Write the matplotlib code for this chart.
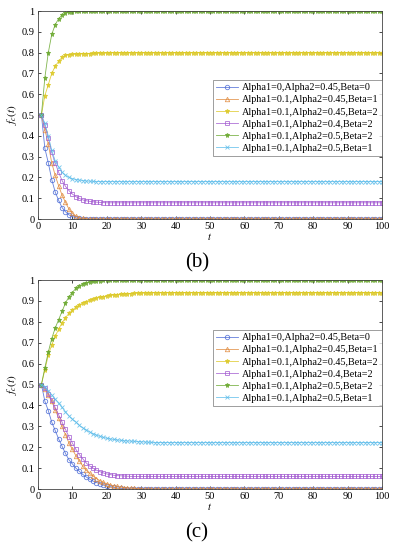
import matplotlib
matplotlib.use("Agg")
import matplotlib.pyplot as plt
import numpy as np

plt.rcParams['font.family'] = ['Liberation Serif', 'DejaVu Serif']
plt.rcParams['mathtext.fontset'] = 'stix'

# t = 1..100: early part listed, then the level it settles at
t = list(range(1, 101))

labels = ["Alpha1=0,Alpha2=0.45,Beta=0",
          "Alpha1=0.1,Alpha2=0.45,Beta=1",
          "Alpha1=0.1,Alpha2=0.45,Beta=2",
          "Alpha1=0.1,Alpha2=0.4,Beta=2",
          "Alpha1=0.1,Alpha2=0.5,Beta=2",
          "Alpha1=0.1,Alpha2=0.5,Beta=1"]

# panel (b)
b_s1 = [0.5, 0.34, 0.27, 0.19, 0.13, 0.09, 0.055, 0.035, 0.02, 0.012, 0.006, 0.003, 0.001]
b_s1_end = 0.0
b_s2 = [0.5, 0.43, 0.36, 0.27, 0.21, 0.16, 0.115, 0.08, 0.048, 0.027, 0.014, 0.007, 0.003, 0.001]
b_s2_end = 0.0
b_s3 = [0.5, 0.594, 0.646, 0.70, 0.735, 0.758, 0.778, 0.787, 0.79, 0.792, 0.793, 0.794, 0.795,
        0.796, 0.796, 0.797, 0.797, 0.798, 0.798, 0.799]
b_s3_end = 0.8
b_s4 = [0.5, 0.45, 0.39, 0.32, 0.27, 0.225, 0.185, 0.157, 0.137, 0.12, 0.108, 0.099, 0.092,
        0.088, 0.085, 0.083, 0.081, 0.08, 0.079]
b_s4_end = 0.078
b_s5 = [0.5, 0.68, 0.80, 0.888, 0.935, 0.963, 0.982, 0.99, 0.995, 0.997, 0.999]
b_s5_end = 1.0
b_s6 = [0.5, 0.46, 0.40, 0.33, 0.28, 0.25, 0.225, 0.21, 0.2, 0.194, 0.19, 0.187, 0.185,
        0.183, 0.182, 0.181]
b_s6_end = 0.18

# panel (c)
c_s1 = [0.5, 0.42, 0.375, 0.32, 0.28, 0.24, 0.205, 0.17, 0.14, 0.12, 0.1, 0.085, 0.07, 0.058,
        0.047, 0.038, 0.031, 0.025, 0.019, 0.015, 0.011, 0.008, 0.005, 0.003, 0.002, 0.001]
c_s1_end = 0.0
c_s2 = [0.5, 0.48, 0.45, 0.42, 0.38, 0.34, 0.30, 0.26, 0.22, 0.19, 0.16, 0.135, 0.11, 0.09,
        0.075, 0.062, 0.05, 0.04, 0.032, 0.025, 0.02, 0.015, 0.012, 0.009, 0.007, 0.005,
        0.004, 0.003, 0.002, 0.001]
c_s2_end = 0.0
c_s3 = [0.5, 0.57, 0.64, 0.69, 0.73, 0.765, 0.795, 0.82, 0.84, 0.855, 0.87, 0.88, 0.89,
        0.897, 0.903, 0.908, 0.913, 0.917, 0.92, 0.923, 0.926, 0.928, 0.93, 0.932, 0.933,
        0.934, 0.935, 0.936, 0.937, 0.938, 0.938, 0.939]
c_s3_end = 0.94
c_s4 = [0.5, 0.485, 0.455, 0.425, 0.39, 0.355, 0.32, 0.285, 0.25, 0.22, 0.19, 0.165, 0.145,
        0.125, 0.11, 0.1, 0.09, 0.083, 0.077, 0.072, 0.069, 0.066, 0.064, 0.063, 0.062,
        0.061, 0.0605]
c_s4_end = 0.06
c_s5 = [0.5, 0.58, 0.655, 0.72, 0.77, 0.81, 0.85, 0.89, 0.92, 0.94, 0.96, 0.972, 0.98,
        0.986, 0.99, 0.993, 0.995, 0.997, 0.998, 0.999]
c_s5_end = 1.0
c_s6 = [0.5, 0.49, 0.47, 0.45, 0.43, 0.41, 0.39, 0.37, 0.35, 0.335, 0.32, 0.305, 0.293,
        0.283, 0.273, 0.265, 0.258, 0.252, 0.247, 0.243, 0.24, 0.237, 0.235, 0.233, 0.231,
        0.23, 0.229, 0.228, 0.227, 0.226, 0.225, 0.224, 0.223]
c_s6_end = 0.222

colors = ['#4a6ad6', '#e0883a', '#dcc825', '#a25ad0', '#6aa82e', '#5cbcea']
markers = ['o', '^', '*', 's', '*', 'x']


def full(vals, end):
    return vals + [end] * (len(t) - len(vals))


def panel(ax, series, legend_box):
    for i, (vals, end) in enumerate(series):
        filled = markers[i] == '*'
        ax.plot(t, full(vals, end), color=colors[i], lw=0.6, marker=markers[i],
                markersize=3.2 if not filled else 3.6,
                markerfacecolor=colors[i] if filled else 'none',
                markeredgewidth=0.6, label=labels[i], alpha=0.85)
    ax.set_xlim(0, 100)
    ax.set_ylim(0, 1)
    ax.set_xticks(range(0, 101, 10))
    ax.set_yticks(np.arange(0, 1.01, 0.1))
    ax.set_yticklabels(['0', '0.1', '0.2', '0.3', '0.4', '0.5', '0.6', '0.7', '0.8', '0.9', '1'])
    ax.tick_params(direction='in', labelsize=7.5, length=2.5, width=0.5,
                   top=True, right=True, pad=2.5)
    for sp in ax.spines.values():
        sp.set_linewidth(0.6)
        sp.set_color('#444444')
    ax.set_xlabel('$t$', fontsize=7.5, labelpad=0)
    ax.set_ylabel('$f_c(t)$', fontsize=8, labelpad=2)
    leg = ax.legend(loc='upper right', bbox_to_anchor=legend_box, fontsize=7.3,
                    frameon=True, fancybox=False, edgecolor='#555555',
                    handlelength=2.2, handletextpad=0.4, labelspacing=0.3,
                    borderpad=0.3, borderaxespad=0)
    leg.get_frame().set_linewidth(0.5)


fig = plt.figure(figsize=(3.94, 5.5), dpi=100)
ax1 = fig.add_axes([0.0964, 0.6018, 0.873, 0.378])
ax2 = fig.add_axes([0.0964, 0.1109, 0.873, 0.38])

panel(ax1, [(b_s1, b_s1_end), (b_s2, b_s2_end), (b_s3, b_s3_end),
            (b_s4, b_s4_end), (b_s5, b_s5_end), (b_s6, b_s6_end)], (1.0, 0.668))
panel(ax2, [(c_s1, c_s1_end), (c_s2, c_s2_end), (c_s3, c_s3_end),
            (c_s4, c_s4_end), (c_s5, c_s5_end), (c_s6, c_s6_end)], (1.0, 0.76))

fig.text(0.5, 0.522, '(b)', ha='center', va='center', fontsize=15)
fig.text(0.5, 0.031, '(c)', ha='center', va='center', fontsize=15)

fig.savefig('out.png', dpi=100)
